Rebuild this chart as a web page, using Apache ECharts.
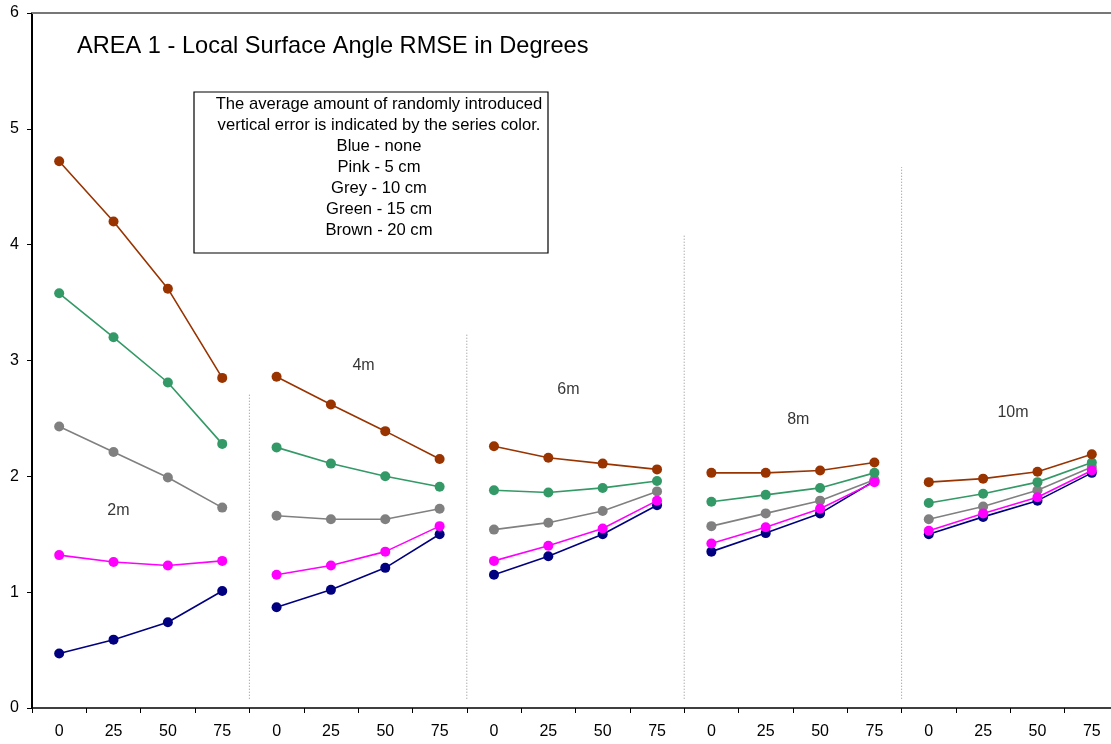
<!DOCTYPE html>
<html>
<head>
<meta charset="utf-8">
<title>AREA 1 - Local Surface Angle RMSE in Degrees</title>
<script src="https://cdn.jsdelivr.net/npm/echarts@6/dist/echarts.min.js"></script>
<style>
  html, body { margin: 0; padding: 0; background: #ffffff; overflow: hidden; }
  /* plot area runs slightly past the right edge of the window */
  #chart { width: 1120px; height: 744px; }
</style>
</head>
<body>
<div id="chart"></div>
<script>
// Offset categories (repeated for each grid spacing group)
const offsets = ['0', '25', '50', '75'];
const groupNames = ['2m', '4m', '6m', '8m', '10m'];

// RMSE (degrees) per error level, 4 offsets x 5 grid spacings
const blueNone = [0.47, 0.59, 0.74, 1.01,  0.87, 1.02, 1.21, 1.50,  1.15, 1.31, 1.50, 1.75,  1.35, 1.51, 1.68, 1.96,  1.50, 1.65, 1.79, 2.03];
const pink5cm  = [1.32, 1.26, 1.23, 1.27,  1.15, 1.23, 1.35, 1.57,  1.27, 1.40, 1.55, 1.79,  1.42, 1.56, 1.72, 1.95,  1.53, 1.68, 1.82, 2.05];
const grey10cm = [2.43, 2.21, 1.99, 1.73,  1.66, 1.63, 1.63, 1.72,  1.54, 1.60, 1.70, 1.87,  1.57, 1.68, 1.79, 1.97,  1.63, 1.74, 1.88, 2.08];
const green15cm= [3.58, 3.20, 2.81, 2.28,  2.25, 2.11, 2.00, 1.91,  1.88, 1.86, 1.90, 1.96,  1.78, 1.84, 1.90, 2.03,  1.77, 1.85, 1.95, 2.12];
const brown20cm= [4.72, 4.20, 3.62, 2.85,  2.86, 2.62, 2.39, 2.15,  2.26, 2.16, 2.11, 2.06,  2.03, 2.03, 2.05, 2.12,  1.95, 1.98, 2.04, 2.19];

// Y axis ticks
const yTicks = [0, 1, 2, 3, 4, 5, 6];

// Group divider heights (top of each dotted divider) and group label placement
const dividerAt = [4, 8, 12, 16];
const dividerTop = [2.72, 3.24, 4.08, 4.67];
const dividerBottom = 0.08;
const labelX = [1.59, 6.10, 9.87, 14.10, 18.05];
const labelY = [1.70, 2.96, 2.75, 2.49, 2.55];

const errorSeries = [
  { name: 'Blue - none',   color: '#000080', data: blueNone },
  { name: 'Grey - 10 cm',  color: '#808080', data: grey10cm },
  { name: 'Green - 15 cm', color: '#339966', data: green15cm },
  { name: 'Brown - 20 cm', color: '#993300', data: brown20cm },
  { name: 'Pink - 5 cm',   color: '#FF00FF', data: pink5cm }
];

const categories = [];
groupNames.forEach(() => offsets.forEach(o => categories.push(o)));

const series = [];
// One line per error level per group, so groups are not joined
errorSeries.forEach((s, si) => {
  groupNames.forEach((g, gi) => {
    const arr = categories.map((c, i) => (Math.floor(i / 4) === gi ? s.data[i] : null));
    series.push({
      name: s.name,
      type: 'line',
      xAxisIndex: 0,
      yAxisIndex: 0,
      data: arr,
      connectNulls: false,
      symbol: 'circle',
      symbolSize: 10,
      showSymbol: true,
      lineStyle: { color: s.color, width: 1.6 },
      itemStyle: { color: s.color },
      z: 3 + si,
      animation: false,
      silent: true
    });
  });
});

// Dotted dividers between groups
dividerAt.forEach((x, i) => {
  series.push({
    type: 'line',
    xAxisIndex: 1,
    yAxisIndex: 0,
    data: [[x, dividerBottom], [x, dividerTop[i]]],
    symbol: 'none',
    lineStyle: { color: '#8c8c8c', width: 1, type: [1, 2] },
    z: 1,
    animation: false,
    silent: true
  });
});

const font = 'Liberation Sans, Arial, sans-serif';

// Group labels
series.push({
  type: 'scatter',
  xAxisIndex: 1,
  yAxisIndex: 0,
  data: groupNames.map((g, i) => ({ value: [labelX[i], labelY[i]], name: g })),
  symbolSize: 0,
  label: {
    show: true,
    position: 'inside',
    formatter: p => p.name,
    fontFamily: font,
    fontSize: 16,
    color: '#000000'
  },
  animation: false,
  silent: true
});

const chart = echarts.init(document.getElementById('chart'), null, { renderer: 'canvas' });

chart.setOption({
  backgroundColor: '#ffffff',
  animation: false,
  grid: { left: 32, top: 13, width: 1087, height: 695, containLabel: false },
  xAxis: [
    {
      type: 'category',
      data: categories,
      position: 'bottom',
      boundaryGap: true,
      axisLine: { show: true, lineStyle: { color: '#000000', width: 1.5 } },
      axisTick: { show: true, length: 5, interval: 0, lineStyle: { color: '#000000', width: 1 } },
      axisLabel: { interval: 0, margin: 16, fontFamily: font, fontSize: 16, color: '#000000' },
      splitLine: { show: false }
    },
    {
      type: 'value',
      min: 0,
      max: 20,
      position: 'top',
      axisLine: { show: true, lineStyle: { color: '#777777', width: 2 } },
      axisTick: { show: false },
      axisLabel: { show: false },
      splitLine: { show: false }
    }
  ],
  yAxis: {
    type: 'value',
    min: yTicks[0],
    max: yTicks[yTicks.length - 1],
    interval: 1,
    axisLine: { show: true, lineStyle: { color: '#000000', width: 2 } },
    axisTick: { show: true, length: 5, lineStyle: { color: '#000000', width: 1 } },
    axisLabel: { margin: 13, fontFamily: font, fontSize: 16, color: '#000000' },
    splitLine: { show: false }
  },
  graphic: [
    {
      type: 'text',
      left: 77,
      top: 34,
      style: {
        text: 'AREA 1 - Local Surface Angle RMSE in Degrees',
        fontFamily: font,
        fontSize: 23.6,
        fill: '#000000'
      },
      z: 10
    },
    {
      type: 'rect',
      shape: { x: 194, y: 92, width: 354, height: 161 },
      style: { fill: '#ffffff', stroke: '#000000', lineWidth: 1.2 },
      z: 10
    },
    {
      type: 'text',
      x: 379,
      y: 94,
      style: {
        text: [
          'The average amount of randomly introduced',
          'vertical error is indicated by the series color.',
          'Blue - none',
          'Pink - 5 cm',
          'Grey - 10 cm',
          'Green - 15 cm',
          'Brown - 20 cm'
        ].join('\n'),
        align: 'center',
        verticalAlign: 'top',
        lineHeight: 21,
        fontFamily: font,
        fontSize: 16.6,
        fill: '#000000'
      },
      z: 11
    }
  ],
  series: series
});
</script>
</body>
</html>
